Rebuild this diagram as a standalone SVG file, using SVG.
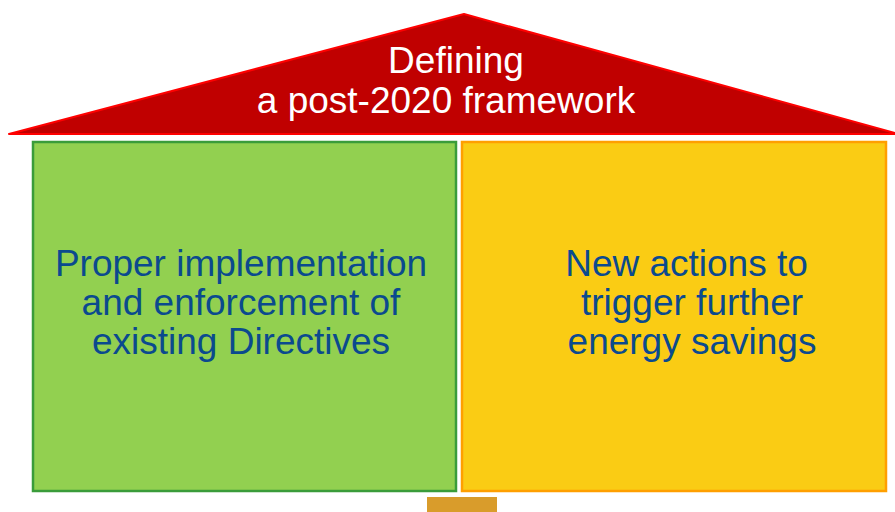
<svg xmlns="http://www.w3.org/2000/svg" width="895" height="512" viewBox="0 0 895 512">
<style>
.t{font-family:"Liberation Sans",Arial,sans-serif;font-size:37px;text-anchor:middle}
.w{fill:#ffffff}
.b{fill:#0B4A8E}
</style>
<rect width="895" height="512" fill="#ffffff"/>
<g id="roof">
<polygon points="9,134 464,14 895,133 895,134" fill="#C00000" stroke="#FF0000" stroke-width="2" stroke-linejoin="round"/>
<text class="t w" x="456" y="73">Defining</text>
<text class="t w" x="446" y="113">a post-2020 framework</text>
</g>
<g id="left">
<rect x="33" y="142" width="423" height="349" fill="#92D050" stroke="#3A9C3A" stroke-width="2.5"/>
<text class="t b" x="241" y="276">Proper implementation</text>
<text class="t b" x="241" y="315">and enforcement of</text>
<text class="t b" x="241" y="354">existing Directives</text>
</g>
<g id="right">
<rect x="462" y="142" width="424" height="349" fill="#FACC14" stroke="#FF9F00" stroke-width="2.5"/>
<text class="t b" x="686.5" y="276">New actions to</text>
<text class="t b" x="692" y="315">trigger further</text>
<text class="t b" x="692" y="354">energy savings</text>
</g>
<g id="base">
<rect x="427" y="497" width="70" height="15" fill="#D99C2B"/>
</g>
<g id="connectors"></g>
</svg>
